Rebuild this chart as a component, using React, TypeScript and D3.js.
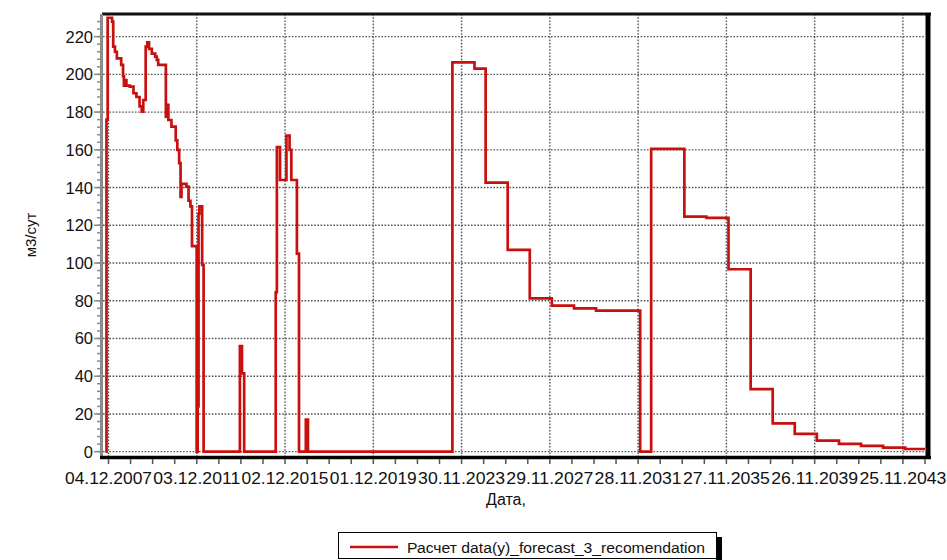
import React from "react";
import * as d3 from "d3";

const WIDTH = 947;
const HEIGHT = 560;
const LEFT = 103;
const RIGHT = 925;
const TOP = 14;
const BOTTOM = 456;

const FONT = "'Liberation Sans', Arial, sans-serif";
const LINE_COLOR = "#c8100f";

// step points of the forecast series (date, m3/day)
const dates = [
  "2007-10-15", "2007-11-01", "2007-11-20", "2008-02-01", "2008-02-20", "2008-03-20",
  "2008-04-20", "2008-07-01", "2008-08-01", "2008-08-15", "2008-09-10", "2008-09-25",
  "2008-11-20", "2009-01-20", "2009-03-10", "2009-05-01", "2009-06-05", "2009-07-01",
  "2009-08-10", "2009-09-05", "2009-10-05", "2009-11-20", "2010-01-15", "2010-02-10",
  "2010-03-05", "2010-07-10", "2010-08-01", "2010-08-20", "2010-10-10", "2010-12-20",
  "2011-01-15", "2011-02-15", "2011-03-10", "2011-03-25", "2011-06-15", "2011-07-20",
  "2011-08-20", "2011-09-15", "2011-12-01", "2011-12-18", "2012-01-01", "2012-01-15",
  "2012-03-01", "2012-03-25", "2013-11-15", "2013-12-20", "2014-01-25", "2015-07-01",
  "2015-07-20", "2015-09-10", "2015-12-25", "2016-02-15", "2016-03-15", "2016-06-15",
  "2016-07-20", "2016-11-10", "2016-12-15", "2023-07-01", "2024-07-01", "2025-01-01",
  "2026-01-01", "2027-01-01", "2028-01-01", "2029-01-01", "2030-01-01", "2032-01-01",
  "2032-07-01", "2034-01-01", "2035-01-01", "2036-01-01", "2037-01-01", "2038-01-01",
  "2039-01-01", "2040-01-01", "2041-01-01", "2042-01-01", "2043-01-01", "2044-01-01",
  "2044-11-24",
];

const values = [
  0, 176, 230, 228, 214.7, 212,
  208.5, 205, 199, 194, 197, 194,
  193.5, 190, 188, 183, 180.2, 186.4,
  214.7, 217, 213.5, 211, 209.4, 207.7,
  205, 177.6, 183.8, 175.8, 172.3, 165,
  160, 152.9, 135, 142, 140.5, 133,
  130, 109, 0, 24, 126, 130,
  99, 0, 56, 41.5, 0, 84.5,
  161.5, 144, 167.5, 160, 144, 105,
  0, 17, 0, 206.4, 203, 142.6,
  107, 81.3, 77.4, 76, 74.8, 0,
  160.5, 124.6, 123.9, 96.7, 33.2, 15,
  9.4, 5.8, 4.1, 3.1, 2.1, 1.4,
  1.4,
];

const xTickLabels = [
  "04.12.2007", "03.12.2011", "02.12.2015", "01.12.2019", "30.11.2023",
  "29.11.2027", "28.11.2031", "27.11.2035", "26.11.2039", "25.11.2043",
];

const yTicks = [0, 20, 40, 60, 80, 100, 120, 140, 160, 180, 200, 220];

const yTitle = "м3/сут";
const xTitle = "Дата,";
const legendLabel = "Расчет data(y)_forecast_3_recomendation";

const parseIso = d3.timeParse("%Y-%m-%d");
const parseTick = d3.timeParse("%d.%m.%Y");

export default function App() {
  const data = dates.map((d, i) => ({ date: parseIso(d) as Date, value: values[i] }));
  const majorTicks = xTickLabels.map((t) => parseTick(t) as Date);

  const x = d3
    .scaleTime()
    .domain([parseIso("2007-09-04") as Date, parseIso("2044-11-24") as Date])
    .range([LEFT, RIGHT]);
  const y = d3.scaleLinear().domain([-2.3, 232]).range([BOTTOM, TOP]);

  const minorX = d3
    .range(0, 38)
    .map((k) => d3.timeDay.offset(majorTicks[0], 365 * k))
    .filter((d) => x(d) <= RIGHT + 0.5);
  const minorY = d3.range(0, 232, 4);

  const line = d3
    .line<{ date: Date; value: number }>()
    .x((d) => x(d.date))
    .y((d) => y(d.value))
    .curve(d3.curveStepAfter);

  return (
    <svg
      width={WIDTH}
      height={HEIGHT}
      style={{ position: "absolute", left: 0, top: 0, background: "#fff" }}
      fontFamily={FONT}
    >
      <defs>
        <clipPath id="plot-clip">
          <rect x={LEFT} y={TOP} width={RIGHT - LEFT} height={BOTTOM - TOP} />
        </clipPath>
      </defs>

      {/* grid */}
      <g stroke="#555" strokeWidth={1.4} strokeDasharray="1.6 1.6">
        {yTicks.map((t) => (
          <line key={"gy" + t} x1={LEFT} x2={RIGHT} y1={y(t)} y2={y(t)} />
        ))}
        {majorTicks.map((d, i) => (
          <line key={"gx" + i} x1={x(d)} x2={x(d)} y1={TOP} y2={BOTTOM} />
        ))}
      </g>

      {/* series */}
      <path
        d={line(data) ?? ""}
        fill="none"
        stroke={LINE_COLOR}
        strokeWidth={2.7}
        strokeLinejoin="miter"
        clipPath="url(#plot-clip)"
      />

      {/* frame */}
      <line x1={LEFT - 1} x2={RIGHT + 6} y1={TOP} y2={TOP} stroke="#111" strokeWidth={3} />
      <line x1={RIGHT + 3} x2={RIGHT + 3} y1={TOP - 1} y2={BOTTOM + 3} stroke="#000" strokeWidth={5} />

      {/* y axis */}
      <line x1={LEFT - 1.5} x2={LEFT - 1.5} y1={TOP} y2={BOTTOM + 2} stroke="#8c8c8c" strokeWidth={3} />
      <g stroke="#8c8c8c" strokeWidth={1.5}>
        {minorY.map((t) => (
          <line key={"my" + t} x1={LEFT - 6} x2={LEFT - 2} y1={y(t)} y2={y(t)} />
        ))}
        {yTicks.map((t) => (
          <line key={"ty" + t} x1={LEFT - 9} x2={LEFT - 2} y1={y(t)} y2={y(t)} />
        ))}
      </g>
      <g fontSize={16.5} fill="#111" textAnchor="end">
        {yTicks.map((t) => (
          <text key={"ly" + t} x={LEFT - 10} y={y(t)} dominantBaseline="central">
            {t}
          </text>
        ))}
      </g>

      {/* x axis */}
      <line x1={LEFT - 3} x2={RIGHT + 6} y1={BOTTOM + 1.5} y2={BOTTOM + 1.5} stroke="#000" strokeWidth={3.5} />
      <g stroke="#555" strokeWidth={1.5}>
        {minorX.map((d, i) => (
          <line key={"mx" + i} x1={x(d)} x2={x(d)} y1={BOTTOM + 3} y2={BOTTOM + 8} />
        ))}
      </g>
      <g fontSize={16.5} fill="#111" textAnchor="middle">
        {majorTicks.map((d, i) => (
          <text
            key={"lx" + i}
            x={x(d)}
            y={BOTTOM + 28}
            textLength={87}
            lengthAdjust="spacingAndGlyphs"
          >
            {xTickLabels[i]}
          </text>
        ))}
      </g>

      {/* titles */}
      <text x={(LEFT + RIGHT) / 2 - 8} y={BOTTOM + 49} fontSize={16} textAnchor="middle" fill="#111">
        {xTitle}
      </text>
      <text
        transform={`translate(36, ${(TOP + BOTTOM) / 2}) rotate(-90)`}
        fontSize={15}
        textAnchor="middle"
        fill="#111"
      >
        {yTitle}
      </text>

      {/* legend */}
      <g>
        <rect x={716} y={537} width={6} height={23} fill="#000" />
        <rect x={338.5} y={532.5} width={378} height={26} fill="#fff" stroke="#000" strokeWidth={1} />
        <line x1={350} x2={398} y1={547} y2={547} stroke={LINE_COLOR} strokeWidth={2.5} />
        <text
          x={407}
          y={552.5}
          fontSize={15.5}
          fill="#111"
          textLength={298}
          lengthAdjust="spacingAndGlyphs"
        >
          {legendLabel}
        </text>
      </g>
    </svg>
  );
}
